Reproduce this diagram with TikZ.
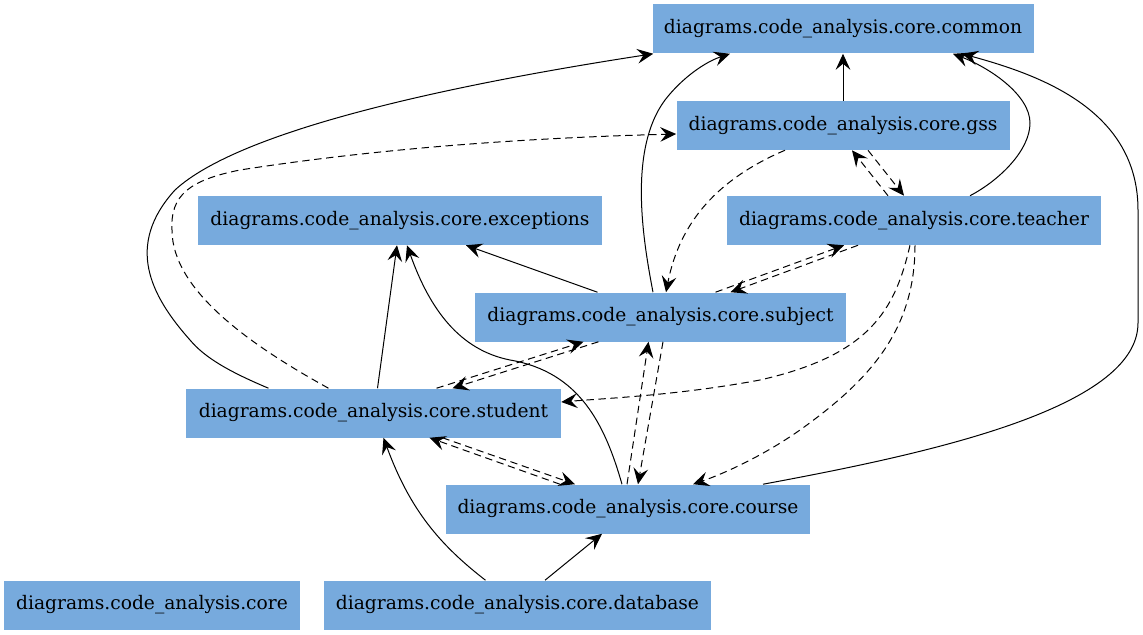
\documentclass[tikz,border=0pt]{standalone}
\usepackage{fontspec}
\setmainfont{DejaVu Serif}
\usetikzlibrary{arrows.meta,calc}
\definecolor{boxblue}{HTML}{77AADD}
\begin{document}
\begin{tikzpicture}[x=0.75pt,y=-0.75pt,
  pkg/.style={rectangle,fill=boxblue,inner sep=0pt,minimum height=36.75pt,
    font=\fontsize{14}{16}\selectfont},
  dep/.style={line width=0.75pt,-{Stealth[length=12pt,width=11pt,inset=4.5pt]}},
  dyn/.style={dep,dashed,dash pattern=on 5.5pt off 3.5pt}]
\useasboundingbox (0,0) rectangle (1143,635);
\node[pkg,minimum width=381*0.75pt] (common) at (843,29) {diagrams.code\_analysis.core.common};
\node[pkg,minimum width=333*0.75pt] (gss) at (843,125.5) {diagrams.code\_analysis.core.gss};
\node[pkg,minimum width=404*0.75pt] (exceptions) at (400,220.5) {diagrams.code\_analysis.core.exceptions};
\node[pkg,minimum width=374*0.75pt] (teacher) at (914,220.5) {diagrams.code\_analysis.core.teacher};
\node[pkg,minimum width=371*0.75pt] (subject) at (660.5,317) {diagrams.code\_analysis.core.subject};
\node[pkg,minimum width=375*0.75pt] (student) at (373.5,413) {diagrams.code\_analysis.core.student};
\node[pkg,minimum width=364*0.75pt] (course) at (628,509) {diagrams.code\_analysis.core.course};
\node[pkg,minimum width=296*0.75pt] (core) at (152,605) {diagrams.code\_analysis.core};
\node[pkg,minimum width=387*0.75pt] (database) at (517.5,605) {diagrams.code\_analysis.core.database};

% solid dependencies
\draw[dep] ($(student.north)+(-105,0)$) .. controls (230,372) and (205,358) .. (190,340)
  .. controls (150,295) and (125,245) .. (175,190)
  .. controls (240,130) and (450,85) .. ($(common.south west)+(1,0)$);
\draw[dep] ($(subject.north)+(-7.5,0)$) .. controls (643,240) and (628,150) .. (665,100)
  .. controls (682,78) and (705,62) .. ($(common.south)+(-113,0)$);
\draw[dep] (gss.north) -- (common.south);
\draw[dep] ($(teacher.north)+(56,0)$) .. controls (1000,180) and (1030,150) .. (1030,123)
  .. controls (1030,95) and (990,68) .. ($(common.south)+(110,0)$);
\draw[dep] ($(course.north)+(135,0)$) .. controls (920,455) and (1138,410) .. (1138,323)
  -- (1138,210) .. controls (1138,110) and (1040,75) .. ($(common.south)+(119,0)$);
\draw[dep] ($(subject.north)+(-63,0)$) -- ($(exceptions.south)+(66,0)$);
\draw[dep] ($(student.north)+(4,0)$) -- ($(exceptions.south)+(-3,0)$);
\draw[dep] ($(course.north)+(-6,0)$) .. controls (605,425) and (580,372) .. (510,360)
  .. controls (460,350) and (430,310) .. ($(exceptions.south)+(7,0)$);
\draw[dep] ($(database.north)+(-32,0)$) .. controls (440,545) and (410,510) .. ($(student.south)+(10,0)$);
\draw[dep] ($(database.north)+(27.5,0)$) -- ($(course.south)+(-26,0)$);

% dashed dependencies
\draw[dyn] ($(student.north)+(-45,0)$) .. controls (250,345) and (172,290) .. (172,230)
  .. controls (170,195) and (190,180) .. (240,170)
  .. controls (400,145) and (560,137) .. ($(gss.west)+(0,8.5)$);
\draw[dyn] ($(gss.south)+(-58,0)$) .. controls (720,178) and (680,220) .. ($(subject.north)+(5.5,0)$);
\draw[dyn] ($(gss.south)+(25,0)$) -- ($(teacher.north)+(-10,0)$);
\draw[dyn] ($(teacher.north)+(-26,0)$) -- ($(gss.south)+(9,0)$);
\draw[dyn] ($(subject.north)+(55,0)$) -- ($(teacher.south)+(-70,0)$);
\draw[dyn] ($(teacher.south)+(-56,0)$) -- ($(subject.north)+(70,0)$);
\draw[dyn] ($(student.north)+(63,0)$) -- ($(subject.south)+(-77,0)$);
\draw[dyn] ($(subject.south)+(-62,0)$) -- ($(student.north)+(79,0)$);
\draw[dyn] ($(student.south)+(69,0)$) -- ($(course.north)+(-53,0)$);
\draw[dyn] ($(course.north)+(-68,0)$) -- ($(student.south)+(56,0)$);
\draw[dyn] ($(course.north)+(-1,0)$) -- ($(subject.south)+(-12,0)$);
\draw[dyn] ($(subject.south)+(2.5,0)$) -- ($(course.north)+(10,0)$);
\draw[dyn] ($(teacher.south)+(-4,0)$) .. controls (895,310) and (870,355) .. (760,380)
  .. controls (680,395) and (610,398) .. ($(student.east)+(0,-11)$);
\draw[dyn] ($(teacher.south)+(1,0)$) .. controls (915,330) and (870,380) .. (800,430)
  .. controls (760,458) and (720,475) .. ($(course.north)+(65,0)$);
\end{tikzpicture}
\end{document}
